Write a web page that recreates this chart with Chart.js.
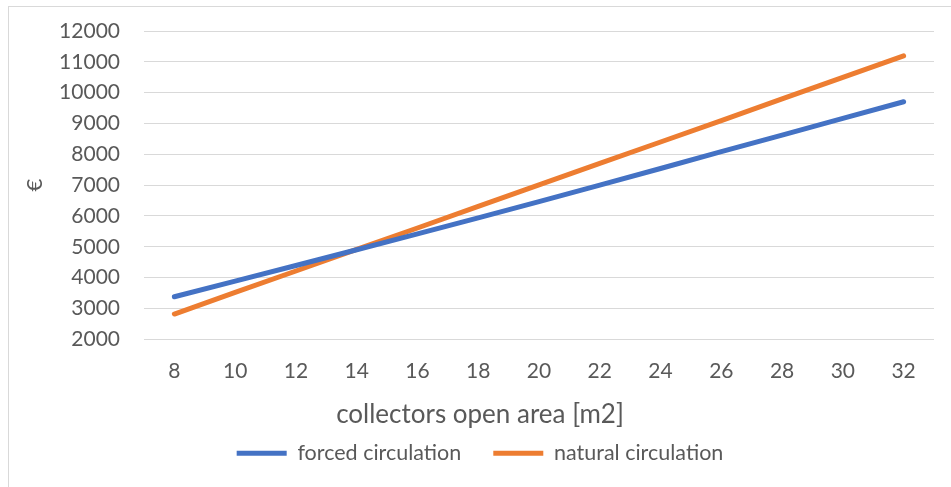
<!DOCTYPE html>
<html>
<head>
<meta charset="utf-8">
<script src="https://cdn.jsdelivr.net/npm/chart.js@4/dist/chart.umd.min.js"></script>
<style>
  html, body { margin: 0; padding: 0; background: #fff; }
  #wrap { position: relative; width: 951px; height: 487px; overflow: hidden; }
  #frame { position: absolute; left: 8px; top: 6px; width: 1000px; height: 600px;
           border-left: 1px solid #D9D9D9; border-top: 1px solid #D9D9D9; box-sizing: border-box; }
  #c { position: absolute; left: 0; top: 0; }
</style>
</head>
<body>
<div id="wrap">
  <div id="frame"></div>
  <canvas id="c" width="951" height="487"></canvas>
</div>
<script>
// collector open area [m2]
const areas = [8, 10, 12, 14, 16, 18, 20, 22, 24, 26, 28, 30, 32];
// system cost in euro
const forcedCost  = [3380, 3885, 4395, 4905, 5420, 5940, 6465, 7000, 7540, 8085, 8625, 9165, 9705];
const naturalCost = [2820, 3520, 4215, 4915, 5610, 6310, 7010, 7705, 8400, 9095, 9795, 10495, 11195];
const seriesNames = ['forced circulation', 'natural circulation'];
const yTitle = '€';
const xTitle = 'collectors open area [m2]';

const FONT = 'Lato, "Open Sans", sans-serif';
const TEXT = '#595959';
const GRID = '#D9D9D9';

new Chart(document.getElementById('c'), {
  type: 'line',
  data: {
    labels: areas,
    datasets: [
      { label: seriesNames[0], data: forcedCost, borderColor: '#4472C4', backgroundColor: '#4472C4' },
      { label: seriesNames[1], data: naturalCost, borderColor: '#ED7D31', backgroundColor: '#ED7D31' }
    ]
  },
  options: {
    responsive: false,
    animation: false,
    devicePixelRatio: 1,
    layout: { padding: { left: 26, right: 17, top: 31, bottom: 13 } },
    elements: {
      line: { borderWidth: 5, borderCapStyle: 'round', borderJoinStyle: 'round', tension: 0 },
      point: { radius: 0, hoverRadius: 0 }
    },
    scales: {
      x: {
        offset: true,
        grid: { display: false, drawTicks: false },
        border: { display: false },
        ticks: { color: TEXT, font: { family: FONT, size: 21 }, padding: 19, maxRotation: 0 },
        afterFit: s => { s.height = 42; }
      },
      y: {
        min: 2000, max: 12000,
        grid: { color: GRID, lineWidth: 1, drawTicks: false },
        border: { display: false },
        ticks: { stepSize: 1000, color: TEXT, font: { family: FONT, size: 21 }, padding: 24,
                 callback: v => String(v) },
        title: { display: true, text: yTitle, color: TEXT, font: { family: FONT, size: 22 }, padding: { top: -4, bottom: 0 } },
        afterFit: s => {
          s.width = 118;
          // keep the label gap from pushing the plot area down
          s.paddingTop = 0;
          s.paddingBottom = 0;
        }
      }
    },
    plugins: {
      tooltip: { enabled: false },
      // x-axis caption, centred under the whole chart between the ticks and the legend
      title: {
        display: true,
        position: 'bottom',
        weight: 500,
        text: xTitle,
        color: TEXT,
        font: { family: FONT, size: 26, weight: 'normal' },
        padding: { top: 18, bottom: 2 }
      },
      legend: {
        position: 'bottom',
        labels: {
          color: TEXT,
          font: { family: FONT, size: 21.5 },
          boxWidth: 50,
          boxHeight: 5,
          useBorderRadius: true,
          borderRadius: 2.5,
          padding: 10,
          generateLabels: chart => chart.data.datasets.map((ds, i) => ({
            // a little extra room after the first entry
            text: i === 0 ? ds.label + '    ' : ds.label,
            fillStyle: ds.borderColor,
            strokeStyle: ds.borderColor,
            lineWidth: 0,
            fontColor: TEXT,
            hidden: false,
            datasetIndex: i
          }))
        }
      }
    }
  }
});
</script>
</body>
</html>
